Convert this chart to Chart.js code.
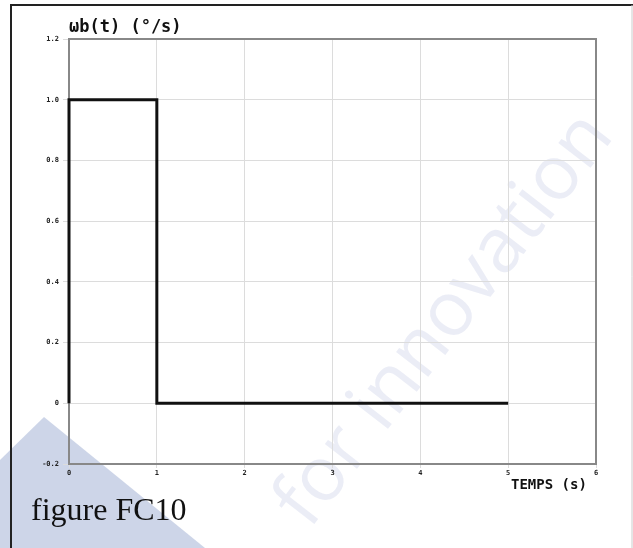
<!DOCTYPE html>
<html>
<head>
<meta charset="utf-8">
<script src="https://cdn.jsdelivr.net/npm/chart.js@4"></script>
<style>
  html, body { margin: 0; padding: 0; background: #fff; }
  #wrap { width: 633px; height: 548px; position: relative; }
</style>
</head>
<body>
<div id="wrap"><canvas id="chart" width="633" height="548"></canvas></div>
<script>
// step response data: ωb(t) versus time
const timeValues = [0, 0, 1, 1, 5];
const omegaValues = [0, 1, 1, 0, 0];
const xTicks = [0, 1, 2, 3, 4, 5, 6];
const yTicks = [-0.2, 0, 0.2, 0.4, 0.6, 0.8, 1.0, 1.2];
const yTitle = 'ωb(t) (°/s)';
const xTitle = 'TEMPS (s)';
const caption = 'figure FC10';

const points = timeValues.map((t, i) => ({ x: t, y: omegaValues[i] }));

// background decorations + frame + titles
const decor = {
  id: 'decor',
  beforeDraw(chart) {
    const c = chart.ctx;
    c.save();
    c.fillStyle = '#fff';
    c.fillRect(0, 0, chart.width, chart.height);
    // watermark triangle
    c.fillStyle = 'rgba(200,208,230,0.9)';
    c.beginPath();
    c.moveTo(44, 417);
    c.lineTo(205, 548);
    c.lineTo(0, 548);
    c.lineTo(0, 460);
    c.closePath();
    c.fill();
    // outer frame
    c.strokeStyle = '#222';
    c.lineWidth = 2;
    c.beginPath();
    c.moveTo(11, 548);
    c.lineTo(11, 5);
    c.lineTo(633, 5);
    c.stroke();
    c.strokeStyle = '#ccc';
    c.lineWidth = 1;
    c.beginPath();
    c.moveTo(632, 5);
    c.lineTo(632, 548);
    c.stroke();
    // watermark text
    c.translate(445, 320);
    c.rotate(-Math.PI * 0.29);
    c.fillStyle = 'rgba(205,210,232,0.4)';
    c.font = '76px "Open Sans", sans-serif';
    c.textAlign = 'center';
    c.textBaseline = 'middle';
    c.fillText('for innovation', 0, 0);
    c.restore();
  },
  beforeDatasetsDraw(chart) {
    const c = chart.ctx;
    const a = chart.chartArea;
    c.save();
    c.strokeStyle = '#888';
    c.lineWidth = 2;
    c.strokeRect(a.left, a.top, a.right - a.left, a.bottom - a.top);
    c.restore();
  },
  afterDraw(chart) {
    const c = chart.ctx;
    const a = chart.chartArea;
    c.save();
    c.fillStyle = '#111';
    c.textBaseline = 'alphabetic';
    c.font = 'bold 17px "DejaVu Sans Mono", monospace';
    c.fillText(yTitle, a.left, a.top - 7);
    c.font = 'bold 14px "DejaVu Sans Mono", monospace';
    c.fillText(xTitle, 511, 489);
    c.font = '32px "Liberation Serif", "Times New Roman", serif';
    c.fillText(caption, 31, 520);
    c.restore();
  }
};

new Chart(document.getElementById('chart'), {
  type: 'line',
  data: {
    datasets: [{
      data: points,
      borderColor: '#111',
      borderWidth: 3,
      pointRadius: 0,
      fill: false,
      tension: 0,
      clip: false
    }]
  },
  options: {
    responsive: false,
    animation: false,
    layout: { padding: { top: 39, right: 37, bottom: 0, left: 0 } },
    plugins: { legend: { display: false }, tooltip: { enabled: false } },
    scales: {
      x: {
        type: 'linear',
        min: 0,
        max: 6,
        afterBuildTicks: ax => { ax.ticks = xTicks.map(v => ({ value: v })); },
        afterFit: ax => { ax.height = 84; },
        grid: { color: '#dcdcdc', lineWidth: 1, tickLength: 4, drawTicks: true },
        border: { display: false },
        ticks: {
          color: '#222',
          padding: 1,
          maxRotation: 0,
          font: { family: '"DejaVu Sans Mono", monospace', size: 7, weight: 'bold' }
        }
      },
      y: {
        min: -0.2,
        max: 1.2,
        afterBuildTicks: ax => { ax.ticks = yTicks.map(v => ({ value: v })); },
        afterFit: ax => { ax.width = 69; },
        grid: { color: '#dcdcdc', lineWidth: 1, tickLength: 6, drawTicks: true },
        border: { display: false },
        ticks: {
          color: '#222',
          padding: 4,
          font: { family: '"DejaVu Sans Mono", monospace', size: 7, weight: 'bold' },
          callback: v => (Math.abs(v) < 1e-9 ? '0' : v.toFixed(1))
        }
      }
    }
  },
  plugins: [decor]
});
</script>
</body>
</html>
